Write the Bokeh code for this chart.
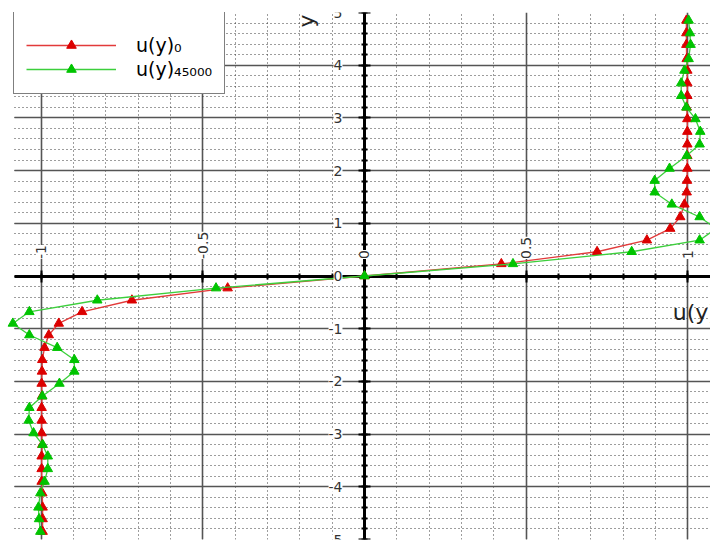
from math import pi

from bokeh.core.properties import value
from bokeh.embed import file_html
from bokeh.models import (ColumnDataSource, Label, LabelSet, Legend,
                          LegendItem, LinearAxis, SingleIntervalTicker)
from bokeh.plotting import figure
from bokeh.resources import INLINE

# Profile nodes across the channel (shared by both profiles)
y_nodes = [-4.85, -4.61, -4.39, -4.12, -3.90, -3.66, -3.42, -3.20, -2.98, -2.74,
           -2.50, -2.28, -2.04, -1.81, -1.59, -1.36, -1.12, -0.90, -0.68, -0.46,
           -0.23, 0.0, 0.23, 0.46, 0.68, 0.90, 1.12, 1.36, 1.59, 1.81,
           2.04, 2.28, 2.50, 2.74, 2.98, 3.20, 3.42, 3.66, 3.90, 4.12,
           4.39, 4.61, 4.85]

# u(y) at t = 0
u_start = [-0.995, -0.995, -0.995, -0.996, -0.998, -0.998, -0.998, -0.996, -0.998, -0.998,
           -0.998, -0.997, -0.998, -0.997, -0.996, -0.989, -0.976, -0.945, -0.873, -0.719,
           -0.423, 0.0, 0.423, 0.719, 0.873, 0.945, 0.976, 0.989, 0.996, 0.997,
           0.998, 0.998, 0.998, 0.998, 0.998, 0.996, 0.998, 0.998, 0.998, 0.996,
           0.995, 0.995, 0.995]

# u(y) at t = 45000
u_late = [-1.002, -1.006, -1.008, -1.002, -0.989, -0.979, -0.979, -0.995, -1.023, -1.038,
          -1.036, -0.996, -0.943, -0.897, -0.897, -0.950, -1.036, -1.087, -1.036, -0.826,
          -0.459, 0.0, 0.459, 0.826, 1.036, 1.087, 1.036, 0.950, 0.897, 0.897,
          0.943, 0.996, 1.036, 1.038, 1.023, 0.995, 0.979, 0.979, 0.989, 1.002,
          1.008, 1.006, 1.002]

x_ticks = [-1.0, -0.5, 0.0, 0.5, 1.0]
x_tick_labels = ["-1", "-0.5", "0", "0.5", "1"]
y_ticks = [5, 4, 3, 2, 1, 0, -1, -2, -3, -4, -5]
y_tick_labels = ["5", "4", "3", "2", "1", "0", "-1", "-2", "-3", "-4", "-5"]

FONT = "DejaVu Sans"
RED_LINE, RED_MARK = "#e23a3a", "#dc0000"
GREEN_LINE, GREEN_MARK = "#3ccf3c", "#00c400"
X_LO, X_HI = -1.1252, 1.0696
GRID_LEFT = -1.083

p = figure(width=710, height=547,
           x_range=(X_LO, X_HI), y_range=(-5, 5),
           x_axis_location=None, y_axis_location=None,
           toolbar_location=None, output_backend="svg",
           min_border_left=0, min_border_right=0,
           min_border_top=12, min_border_bottom=8)
p.outline_line_color = None
p.background_fill_color = "white"
p.border_fill_color = "white"

# Grid: solid majors, dotted minors; horizontal lines start a little inside the frame
p.xgrid.ticker = SingleIntervalTicker(interval=0.5, num_minor_ticks=5)
p.xgrid.bounds = (GRID_LEFT, X_HI)
p.ygrid.ticker = SingleIntervalTicker(interval=1, num_minor_ticks=5)
p.ygrid.cross_bounds = (GRID_LEFT, X_HI)
for g in (p.xgrid, p.ygrid):
    g.grid_line_color = "#555555"
    g.grid_line_width = 1.6
    g.minor_grid_line_color = "#3a3a3a"
    g.minor_grid_line_dash = "1 3"
    g.minor_grid_line_width = 1

# Axes crossing at the origin
xaxis = LinearAxis(fixed_location=0, bounds=(GRID_LEFT, X_HI),
                   ticker=SingleIntervalTicker(interval=0.5, num_minor_ticks=5))
yaxis = LinearAxis(fixed_location=0,
                   ticker=SingleIntervalTicker(interval=1, num_minor_ticks=5))
for ax in (xaxis, yaxis):
    ax.axis_line_color = "black"
    ax.axis_line_width = 3
    ax.major_tick_line_color = "black"
    ax.major_tick_line_width = 2
    ax.major_tick_in = 6
    ax.major_tick_out = 6
    ax.minor_tick_line_color = "black"
    ax.minor_tick_line_width = 2
    ax.minor_tick_in = 3
    ax.minor_tick_out = 3
    ax.major_label_text_color = None
p.add_layout(xaxis, "above")
p.add_layout(yaxis, "left")

# Tick labels with a white backing box
label_style = dict(text_font=value(FONT), text_font_size="14px", text_color="#333333",
                   background_fill_color="white", background_fill_alpha=1.0)
xsrc = ColumnDataSource(dict(x=x_ticks, y=[0] * len(x_ticks), text=x_tick_labels))
ysrc = ColumnDataSource(dict(x=[0] * len(y_ticks), y=y_ticks, text=y_tick_labels))
p.add_layout(LabelSet(x="x", y="y", text="text", source=xsrc, angle=pi / 2,
                      y_offset=17, text_align="left", text_baseline="middle",
                      **label_style))
p.add_layout(LabelSet(x="x", y="y", text="text", source=ysrc, x_offset=-22,
                      text_align="right", text_baseline="middle", **label_style))

# Axis titles
p.add_layout(Label(x=0.953, y=-0.70, text="u(y)", text_align="left",
                   text_baseline="middle", text_font=FONT, text_font_size="22px",
                   text_color="#222222"))
p.add_layout(Label(x=-0.178, y=4.84, text="y", angle=pi / 2, text_align="center",
                   text_baseline="middle", text_font=FONT, text_font_size="22px",
                   text_color="#222222"))

# Profiles
src = ColumnDataSource(dict(y=y_nodes, u0=u_start, u1=u_late))
r_line = p.line("u0", "y", source=src, line_color=RED_LINE, line_width=1.3, level="annotation")
r_pts = p.scatter("u0", "y", source=src, marker="triangle", size=9.5,
                  fill_color=RED_MARK, line_color=RED_MARK, level="annotation")
g_line = p.line("u1", "y", source=src, line_color=GREEN_LINE, line_width=1.3, level="annotation")
g_pts = p.scatter("u1", "y", source=src, marker="triangle", size=9.5,
                  fill_color=GREEN_MARK, line_color=GREEN_MARK, level="annotation")

legend = Legend(items=[LegendItem(label="u(y)\u2080", renderers=[r_line, r_pts]),
                       LegendItem(label="u(y)\u2084\u2085\u2080\u2080\u2080", renderers=[g_line, g_pts])],
                location=(13, 445), margin=0, padding=12, spacing=0,
                glyph_width=90, glyph_height=24, label_height=24, label_width=68,
                label_standoff=20, title=" ", title_text_font_size="6px", title_standoff=3,
                label_text_font=FONT, label_text_font_size="19px", label_text_color="black",
                border_line_color="black", border_line_width=1.5,
                background_fill_color="white", background_fill_alpha=1.0)
p.add_layout(legend)

open("out.html", "w").write(file_html(p, INLINE))
